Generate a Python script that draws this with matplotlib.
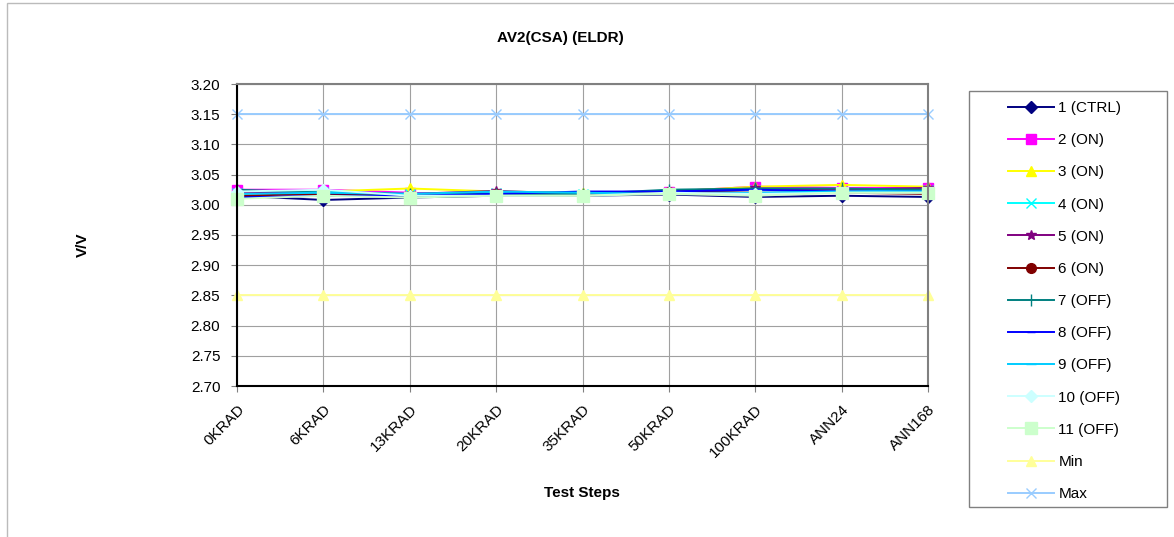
import matplotlib
matplotlib.use("Agg")
import matplotlib.pyplot as plt
from matplotlib.patches import Rectangle

plt.rcParams['font.family'] = ['Liberation Sans', 'DejaVu Sans']

steps = ['0KRAD', '6KRAD', '13KRAD', '20KRAD', '35KRAD', '50KRAD', '100KRAD', 'ANN24', 'ANN168']

s1 = [3.015, 3.008, 3.012, 3.015, 3.015, 3.017, 3.013, 3.015, 3.013]
s2 = [3.025, 3.025, 3.020, 3.015, 3.015, 3.022, 3.030, 3.028, 3.028]
s3 = [3.020, 3.022, 3.027, 3.022, 3.020, 3.022, 3.030, 3.033, 3.030]
s4 = [3.020, 3.022, 3.018, 3.020, 3.018, 3.020, 3.025, 3.022, 3.025]
s5 = [3.020, 3.020, 3.018, 3.023, 3.018, 3.022, 3.027, 3.025, 3.028]
s6 = [3.015, 3.018, 3.015, 3.018, 3.015, 3.022, 3.020, 3.020, 3.018]
s7 = [3.025, 3.020, 3.018, 3.018, 3.018, 3.025, 3.027, 3.027, 3.025]
s8 = [3.012, 3.015, 3.015, 3.018, 3.022, 3.022, 3.025, 3.022, 3.022]
s9 = [3.018, 3.020, 3.018, 3.022, 3.020, 3.018, 3.020, 3.022, 3.022]
s10 = [3.022, 3.025, 3.015, 3.015, 3.015, 3.020, 3.018, 3.020, 3.020]
s11 = [3.010, 3.015, 3.012, 3.015, 3.015, 3.018, 3.015, 3.020, 3.020]
vmin = [2.85] * 9
vmax = [3.15] * 9

series = [
    ('1 (CTRL)', s1, '#000080', 'D', 6),
    ('2 (ON)', s2, '#FF00FF', 's', 7),
    ('3 (ON)', s3, '#FFFF00', '^', 7),
    ('4 (ON)', s4, '#00FFFF', 'x', 7),
    ('5 (ON)', s5, '#800080', '*', 7),
    ('6 (ON)', s6, '#800000', 'o', 7),
    ('7 (OFF)', s7, '#008080', '|', 8),
    ('8 (OFF)', s8, '#0000FF', '_', 6),
    ('9 (OFF)', s9, '#00CCFF', '_', 7),
    ('10 (OFF)', s10, '#CCFFFF', 'D', 6),
    ('11 (OFF)', s11, '#CCFFCC', 's', 8),
    ('Min', vmin, '#FFFF99', '^', 7),
    ('Max', vmax, '#99CCFF', 'x', 7),
]

fig = plt.figure(figsize=(11.74, 5.37), dpi=100)
fig.patches.append(Rectangle((7 / 1174, -0.1), 1.2, 1.1 - 3 / 537, transform=fig.transFigure,
                             fill=False, edgecolor='#BBBBBB', linewidth=1))
# legend frame
fig.patches.append(Rectangle((969 / 1174, 1 - 507 / 537), (1167 - 969) / 1174, (507 - 91) / 537,
                             transform=fig.transFigure, fill=False, edgecolor='#808080',
                             linewidth=1))
ax = fig.add_axes([237 / 1174, 1 - 386 / 537, (928 - 237) / 1174, (386 - 84) / 537])

x = list(range(len(steps)))
for name, vals, col, mk, ms in series:
    ax.plot(x, vals, color=col, marker=mk, markersize=ms, linewidth=1.4,
            markeredgecolor=col, markerfacecolor=col, label=name, clip_on=False)

ax.set_xlim(0, len(steps) - 1)
ax.set_ylim(2.70, 3.20)
ax.set_yticks([2.70 + 0.05 * i for i in range(11)])
ax.set_yticklabels(['%.2f' % (2.70 + 0.05 * i) for i in range(11)], fontsize=11)
ax.set_xticks(x)
ax.set_xticklabels(steps, rotation=45, ha='right', rotation_mode='anchor', fontsize=11)
ax.grid(True, color='#A0A0A0', linewidth=0.8)
ax.set_axisbelow(True)
ax.tick_params(axis='both', length=4, width=0.8, color='#808080', pad=8)
for side in ['top', 'right']:
    ax.spines[side].set_color('#808080')
    ax.spines[side].set_linewidth(1.5)
for side in ['left', 'bottom']:
    ax.spines[side].set_color('black')
    ax.spines[side].set_linewidth(1.5)

fig.text(560 / 1174, 1 - 38 / 537, 'AV2(CSA) (ELDR)', ha='center', va='center',
         fontsize=11, fontweight='bold')
fig.text(83 / 1174, 1 - 245 / 537, 'V/V', ha='center', va='center', rotation=90,
         fontsize=11, fontweight='bold')
fig.text(582 / 1174, 1 - 493 / 537, 'Test Steps', ha='center', va='center',
         fontsize=11, fontweight='bold')

leg = fig.legend(loc='upper left', bbox_to_anchor=(1008 / 1174, 1 - 101 / 537),
                 bbox_transform=fig.transFigure, fontsize=11, frameon=False,
                 borderpad=0, labelspacing=1.19, handlelength=3.0, handletextpad=0.3,
                 borderaxespad=0)
fig.savefig('out.png', dpi=100)
